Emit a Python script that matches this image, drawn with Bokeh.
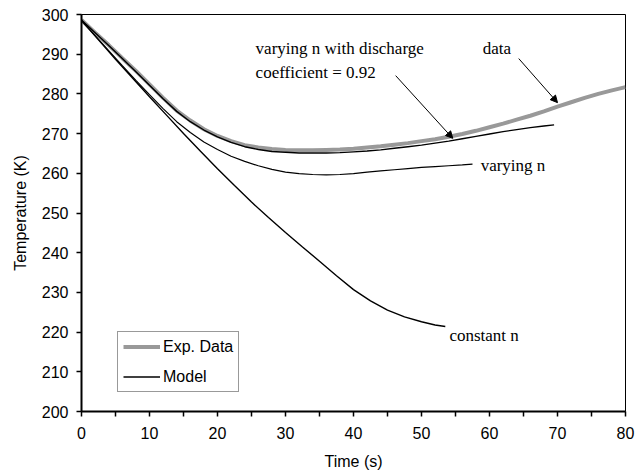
from bokeh.plotting import figure
from bokeh.models import FixedTicker, Arrow, NormalHead, Range1d, Legend, LegendItem
from bokeh.core.properties import value
from bokeh.embed import file_html
from bokeh.resources import INLINE

# ---------------- data ----------------
exp_t = [0, 2, 4, 6, 8, 10, 12, 14, 16, 18, 20, 22, 24, 26, 28, 30, 32, 34, 36, 38, 40,
         42, 44, 46, 48, 50, 52, 54, 56, 58, 60, 62, 64, 66, 68, 70, 72, 74, 76, 78, 80]
exp_T = [298.6, 295.4, 292.3, 289.0, 285.8, 282.4, 279.0, 275.8, 273.3, 271.1, 269.4,
         268.1, 267.1, 266.5, 266.1, 265.9, 265.8, 265.8, 265.9, 266.0, 266.2,
         266.5, 266.8, 267.2, 267.6, 268.1, 268.6, 269.2, 269.9, 270.7, 271.6,
         272.5, 273.5, 274.5, 275.6, 276.8, 277.9, 279.0, 280.0, 280.9, 281.7]

cd_t = [0, 2, 4, 6, 8, 10, 12, 14, 16, 18, 20, 22, 24, 26, 28, 30, 32, 34, 36, 38, 40,
        42, 44, 46, 48, 50, 52, 54, 56, 58, 60, 62, 64, 66, 68, 69.5]
cd_T = [298.6, 295.4, 292.2, 288.9, 285.6, 282.2, 278.8, 275.6, 273.0, 270.9, 269.2,
        267.8, 266.7, 266.0, 265.5, 265.3, 265.1, 265.1, 265.1, 265.2, 265.4,
        265.6, 265.9, 266.3, 266.7, 267.1, 267.6, 268.1, 268.7, 269.3, 269.9,
        270.5, 271.0, 271.5, 271.9, 272.2]

vn_t = [0, 2, 4, 6, 8, 10, 12, 14, 16, 18, 20, 22, 24, 26, 28, 30, 32, 34, 36, 38, 40,
        42, 44, 46, 48, 50, 52, 54, 56, 57.5]
vn_T = [298.5, 294.7, 290.9, 287.1, 283.4, 279.8, 276.3, 273.0, 270.3, 267.9, 266.0,
        264.3, 263.0, 261.9, 261.0, 260.3, 259.9, 259.7, 259.6, 259.7, 259.9,
        260.3, 260.6, 260.9, 261.2, 261.5, 261.7, 261.9, 262.1, 262.3]

cn_t = [0, 2.5, 5, 7.5, 10, 12.5, 15, 17.5, 20, 22.5, 25, 27.5, 30, 32.5, 35, 37.5, 40,
        42.5, 45, 47.5, 50, 52, 53.5]
cn_T = [298.5, 293.6, 288.75, 284.0, 279.3, 274.65, 270.05, 265.55, 261.15, 256.9,
        252.75, 248.85, 245.1, 241.45, 237.85, 234.2, 230.7, 227.85, 225.55, 223.85,
        222.6, 221.8, 221.4]

x_ticks = [0, 10, 20, 30, 40, 50, 60, 70, 80]
x_minor = [5, 15, 25, 35, 45, 55, 65, 75]
y_ticks = [200, 210, 220, 230, 240, 250, 260, 270, 280, 290, 300]

# ---------------- figure ----------------
p = figure(width=643, height=475, output_backend="svg", toolbar_location=None,
           x_range=Range1d(0, 80), y_range=Range1d(200, 300),
           min_border_left=81, min_border_right=18, min_border_top=14, min_border_bottom=64)
p.grid.visible = False
p.outline_line_color = "black"
p.outline_line_width = 1
p.background_fill_color = "white"
p.border_fill_color = "white"

p.xaxis.ticker = FixedTicker(ticks=x_ticks, minor_ticks=x_minor)
p.yaxis.ticker = FixedTicker(ticks=y_ticks, minor_ticks=[])
for ax in (p.xaxis[0], p.yaxis[0]):
    ax.axis_line_color = "black"
    ax.axis_line_width = 2
    ax.major_tick_line_color = "black"
    ax.major_tick_line_width = 1.5
    ax.major_tick_out = 5
    ax.major_tick_in = 0
    ax.minor_tick_line_color = "black"
    ax.minor_tick_line_width = 1.5
    ax.minor_tick_out = 5
    ax.minor_tick_in = 0
    ax.major_label_text_font = "Liberation Sans"
    ax.major_label_text_font_size = "16px"
    ax.major_label_text_color = "black"
    ax.axis_label_text_font = "Liberation Sans"
    ax.axis_label_text_font_size = "16px"
    ax.axis_label_text_font_style = "normal"
    ax.axis_label_text_color = "black"

p.xaxis.axis_label = "Time (s)"
p.yaxis.axis_label = "Temperature (K)"
p.xaxis.major_label_standoff = 10
p.yaxis.major_label_standoff = 8
p.xaxis.axis_label_standoff = 11
p.yaxis.axis_label_standoff = 10

# ---------------- lines ----------------
r_exp = p.line(exp_t, exp_T, line_color="#999999", line_width=4)
r_cd = p.line(cd_t, cd_T, line_color="black", line_width=1.4)
p.line(vn_t, vn_T, line_color="black", line_width=1.2)
p.line(cn_t, cn_T, line_color="black", line_width=1.4)

# ---------------- annotations ----------------
serif = value("Liberation Serif")
p.text(x=[25.6, 25.6, 59.0, 58.7, 54.1],
       y=[291.4, 285.4, 291.4, 262.0, 219.1],
       text=["varying n with discharge", "coefficient = 0.92", "data", "varying n", "constant n"],
       text_font=serif, text_font_size="17px", text_color="black",
       text_baseline="middle", text_align="left")

p.add_layout(Arrow(end=NormalHead(size=7, fill_color="black", line_color="black", line_width=1),
                   x_start=46.2, y_start=284.6, x_end=54.6, y_end=268.8,
                   line_color="black", line_width=1))
p.add_layout(Arrow(end=NormalHead(size=7, fill_color="black", line_color="black", line_width=1),
                   x_start=64.3, y_start=288.9, x_end=70.0, y_end=277.8,
                   line_color="black", line_width=1))

# ---------------- legend ----------------
legend = Legend(items=[LegendItem(label="Exp. Data", renderers=[r_exp]),
                       LegendItem(label="Model", renderers=[r_cd])],
                location=(36, 19))
legend.label_text_font = "Liberation Sans"
legend.label_text_font_size = "16px"
legend.label_text_color = "black"
legend.glyph_width = 37
legend.glyph_height = 19
legend.label_height = 19
legend.label_standoff = 3
legend.spacing = 11
legend.padding = 5
legend.margin = 0
legend.border_line_color = "#333333"
legend.border_line_width = 1
legend.background_fill_alpha = 1
p.add_layout(legend, "center")

open("out.html", "w").write(file_html(p, INLINE))
